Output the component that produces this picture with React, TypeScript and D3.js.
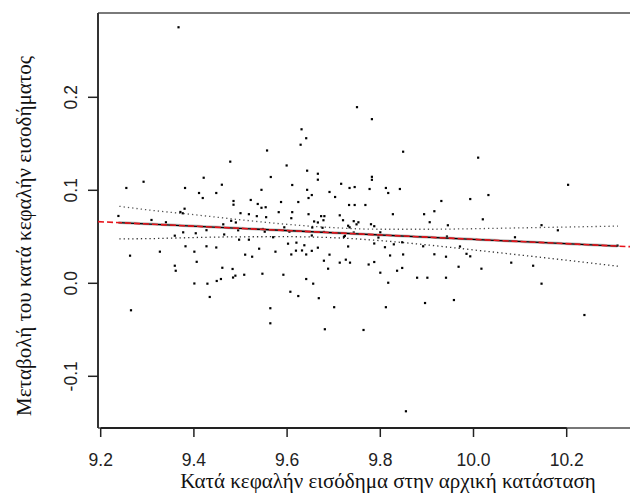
import React from "react";
import * as d3 from "d3";

// Initial per-capita income (log) — x values
const incomeX: number[] = [
  9.238, 9.255, 9.263, 9.265, 9.292, 9.309, 9.327, 9.340, 9.359, 9.359,
  9.361, 9.367, 9.371, 9.376, 9.377, 9.381, 9.380, 9.382, 9.401, 9.401,
  9.404, 9.406, 9.411, 9.419, 9.421, 9.427, 9.427, 9.429, 9.434, 9.448,
  9.448, 9.449, 9.458, 9.460, 9.461, 9.463, 9.465, 9.478, 9.480, 9.483,
  9.485, 9.485, 9.484, 9.489, 9.490, 9.495, 9.497, 9.500, 9.508, 9.510,
  9.518, 9.518, 9.522, 9.525, 9.535, 9.537, 9.540, 9.545, 9.545, 9.547,
  9.548, 9.552, 9.554, 9.555, 9.557, 9.565, 9.564, 9.564, 9.570, 9.575,
  9.582, 9.587, 9.592, 9.594, 9.599, 9.602, 9.605, 9.607, 9.609, 9.609,
  9.611, 9.611, 9.620, 9.619, 9.624, 9.624, 9.629, 9.631, 9.632, 9.637,
  9.641, 9.641, 9.641, 9.643, 9.643, 9.646, 9.646, 9.653, 9.654, 9.653,
  9.653, 9.656, 9.658, 9.666, 9.666, 9.666, 9.666, 9.668, 9.673, 9.680,
  9.678, 9.676, 9.679, 9.679, 9.681, 9.688, 9.691, 9.691, 9.701, 9.703,
  9.713, 9.713, 9.716, 9.720, 9.722, 9.724, 9.726, 9.731, 9.731, 9.734,
  9.734, 9.733, 9.735, 9.743, 9.743, 9.745, 9.745, 9.750, 9.753, 9.749,
  9.764, 9.768, 9.775, 9.777, 9.780, 9.787, 9.782, 9.782, 9.782, 9.787,
  9.787, 9.796, 9.800, 9.800, 9.810, 9.812, 9.812, 9.817, 9.817, 9.821,
  9.827, 9.829, 9.836, 9.842, 9.847, 9.847, 9.849, 9.849, 9.855, 9.879,
  9.892, 9.894, 9.896, 9.901, 9.906, 9.916, 9.916, 9.931, 9.941, 9.941,
  9.943, 9.945, 9.958, 9.968, 9.971, 9.985, 9.993, 9.993, 10.010, 10.017,
  10.020, 10.032, 10.081, 10.089, 10.128, 10.146, 10.146, 10.181, 10.203, 10.238,
  10.309,
];

// Change of per-capita income — y values
const incomeChange: number[] = [
  0.0724, 0.1025, 0.0297, -0.0290, 0.1092, 0.0681, 0.0340, 0.0656, 0.0512, 0.0189,
  0.0135, 0.2753, 0.0767, 0.0753, 0.0548, 0.1025, 0.0802, 0.0398, 0.0340, -0.0002,
  0.0538, 0.0231, 0.0971, 0.0917, 0.1135, 0.0571, 0.0398, -0.0004, -0.0147, 0.0971,
  0.0385, 0.0025, 0.0046, 0.1060, 0.0167, 0.0634, 0.0525, 0.1308, 0.0672, 0.0154,
  0.0885, 0.0845, 0.0062, 0.0082, 0.0654, 0.0570, 0.0469, 0.0754, 0.0092, 0.0308,
  0.0743, 0.0469, 0.0896, 0.0286, 0.0722, 0.0853, 0.0372, 0.1005, 0.0812, 0.0103,
  0.0584, 0.0555, 0.0818, 0.0711, 0.1428, 0.1143, -0.0268, -0.0430, 0.0495, 0.0340,
  0.0765, 0.0874, 0.0092, 0.0602, 0.1267, 0.0426, 0.0555, -0.0091, 0.0310, 0.0700,
  0.0765, 0.1057, 0.0437, 0.0351, 0.0874, -0.0137, 0.1490, 0.1656, 0.0353, 0.0409,
  0.1560, 0.0310, 0.0046, 0.1211, 0.1005, 0.0917, 0.0743, 0.0949, 0.0600, 0.0514,
  0.0349, -0.0004, 0.0665, 0.0654, 0.1178, 0.1114, 0.0383, -0.0160, 0.0722, 0.0722,
  0.0678, 0.0597, 0.0552, 0.0243, -0.0494, 0.0157, 0.0308, 0.0982, -0.0257, 0.0928,
  0.0731, 0.0222, 0.1070, 0.0678, 0.0500, 0.0511, 0.0254, 0.0396, 0.0619, 0.0602,
  0.1025, 0.0842, 0.0222, 0.0668, 0.0546, 0.1035, 0.0842, 0.1894, 0.0656, 0.0634,
  -0.0502, 0.0842, 0.0202, 0.1014, 0.0635, 0.0614, 0.1765, 0.1145, 0.1113, 0.0229,
  0.0428, 0.0492, 0.0548, 0.0114, 0.0388, 0.1025, -0.0257, 0.0971, 0.0006, 0.0299,
  0.0743, 0.0419, 0.0135, 0.1014, 0.0441, 0.0165, 0.1415, 0.0310, -0.1376, 0.0060,
  0.0398, 0.0743, -0.0212, 0.0060, 0.0657, 0.0775, 0.0312, 0.0885, 0.0286, 0.0060,
  0.0503, 0.0624, -0.0180, 0.0178, 0.0396, 0.0317, 0.0290, 0.0906, 0.1351, 0.0157,
  0.0688, 0.0949, 0.0222, 0.0495, 0.0189, 0.0625, -0.0004, 0.0570, 0.1059, -0.0341,
  0.0406,
];

// Fitted regression line (intercept, slope)
const fitCoef: number[] = [0.283, -0.02357];

// Confidence band
const bandX: number[] = [9.24, 9.3, 9.4, 9.5, 9.6, 9.7, 9.8, 9.9, 10.0, 10.1, 10.2, 10.31];
const bandUpper: number[] = [0.0828, 0.079, 0.0738, 0.0683, 0.0634, 0.0598, 0.0581, 0.0581, 0.0587, 0.0596, 0.0605, 0.0615];
const bandLower: number[] = [0.0478, 0.048, 0.0492, 0.05, 0.0501, 0.049, 0.0459, 0.0413, 0.0359, 0.0304, 0.0248, 0.0184];

const xTicks: number[] = [9.2, 9.4, 9.6, 9.8, 10.0, 10.2];
const yTicks: number[] = [-0.1, 0.0, 0.1, 0.2];

const xTitle = "Κατά κεφαλήν εισόδημα στην αρχική κατάσταση";
const yTitle = "Μεταβολή του κατά κεφαλήν εισοδήματος";

export default function App() {
  const W = 630;
  const H = 494;
  const left = 98;
  const top = 13;
  const bottom = 428;
  const right = 640;

  const x = d3.scaleLinear().domain([9.2, 10.2]).range([100.7, 566.7]);
  const y = d3.scaleLinear().domain([-0.1, 0.2]).range([376.3, 97.3]);

  const fit = (v: number) => fitCoef[0] + fitCoef[1] * v;
  const xMinPlot = x.invert(left);
  const xMaxPlot = x.invert(right);
  const dataMin = d3.min(incomeX) as number;
  const dataMax = d3.max(incomeX) as number;

  const line = d3
    .line<[number, number]>()
    .x((d) => x(d[0]))
    .y((d) => y(d[1]));
  const bandLine = d3
    .line<[number, number]>()
    .x((d) => x(d[0]))
    .y((d) => y(d[1]))
    .curve(d3.curveMonotoneX);

  const upper = bandX.map((v, i) => [v, bandUpper[i]] as [number, number]);
  const lower = bandX.map((v, i) => [v, bandLower[i]] as [number, number]);

  const fmtX = (v: number) => v.toFixed(1);
  const fmtY = (v: number) => v.toFixed(1);

  const sans = "'Liberation Sans', Arial, Helvetica, sans-serif";
  const serif = "'Liberation Serif', 'Times New Roman', serif";

  return (
    <svg
      width={W}
      height={H}
      style={{ position: "absolute", left: 0, top: 0, background: "#fff" }}
    >
      <rect x={0} y={0} width={W} height={H} fill="#fff" />
      <defs>
        <clipPath id="plotclip">
          <rect x={left} y={top} width={right - left} height={bottom - top} />
        </clipPath>
      </defs>

      {/* box */}
      <line x1={left} x2={W} y1={top} y2={top} stroke="#7a7a7a" strokeWidth={2} />
      <line x1={left} x2={W} y1={bottom} y2={bottom} stroke="#777" strokeWidth={2} />
      <line x1={left} x2={left} y1={top} y2={bottom} stroke="#333" strokeWidth={2} />

      <g clipPath="url(#plotclip)">
        {/* confidence band */}
        <path d={bandLine(upper) || ""} fill="none" stroke="#555" strokeWidth={1.3} strokeDasharray="1.3,3" />
        <path d={bandLine(lower) || ""} fill="none" stroke="#333" strokeWidth={1.3} strokeDasharray="1.3,3" />

        {/* points */}
        {incomeX.map((v, i) => (
          <rect
            key={i}
            x={x(v) - 1.1}
            y={y(incomeChange[i]) - 1.1}
            width={2.2}
            height={2.2}
            fill="#000"
          />
        ))}

        {/* fitted line over the data range */}
        <path
          d={line([[dataMin, fit(dataMin)], [dataMax, fit(dataMax)]]) || ""}
          fill="none"
          stroke="#999"
          strokeWidth={3}
          strokeOpacity={0.6}
        />
        <path
          d={line([[dataMin, fit(dataMin)], [dataMax, fit(dataMax)]]) || ""}
          fill="none"
          stroke="#000"
          strokeWidth={1.3}
        />
        {/* regression across the whole plot */}
        <path
          d={line([[xMinPlot, fit(xMinPlot)], [xMaxPlot, fit(xMaxPlot)]]) || ""}
          fill="none"
          stroke="#e8141b"
          strokeWidth={1.6}
          strokeDasharray="6,3"
        />
      </g>

      {/* x axis */}
      <line x1={x(xTicks[0])} x2={x(xTicks[xTicks.length - 1])} y1={bottom} y2={bottom} stroke="#222" strokeWidth={2} />
      {xTicks.map((t) => (
        <g key={t}>
          <line x1={x(t)} x2={x(t)} y1={bottom} y2={bottom + 9} stroke="#222" strokeWidth={1.5} />
          <text x={x(t)} y={466} fontFamily={sans} fontSize={17.5} textAnchor="middle" fill="#222">
            {fmtX(t)}
          </text>
        </g>
      ))}

      {/* y axis */}
      {yTicks.map((t) => (
        <g key={t}>
          <line x1={left - 10} x2={left} y1={y(t)} y2={y(t)} stroke="#222" strokeWidth={1.5} />
          <text
            transform={`translate(77,${y(t)}) rotate(-90)`}
            fontFamily={sans}
            fontSize={17.5}
            textAnchor="middle"
            fill="#222"
          >
            {fmtY(t)}
          </text>
        </g>
      ))}

      {/* titles */}
      <text x={388} y={488} fontFamily={serif} fontSize={21} textAnchor="middle" fill="#111">
        {xTitle}
      </text>
      <text
        transform={`translate(31,236) rotate(-90)`}
        fontFamily={serif}
        fontSize={21}
        textAnchor="middle"
        fill="#111"
      >
        {yTitle}
      </text>
    </svg>
  );
}
